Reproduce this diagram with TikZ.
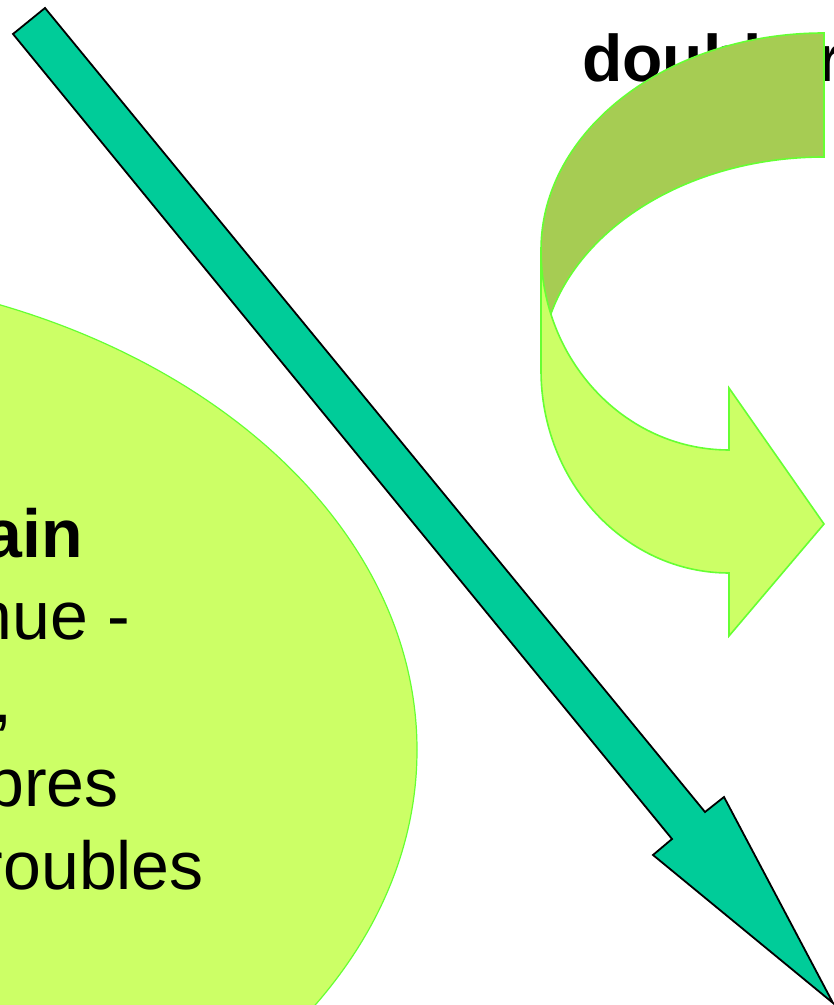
\documentclass[tikz,border=0pt]{standalone}
\usepackage{fontspec}
\setmainfont{Liberation Sans}
\usepackage{tikz}
\definecolor{limefill}{RGB}{204,255,102}
\definecolor{limeedge}{RGB}{102,255,51}
\definecolor{bandback}{RGB}{166,204,83}
\definecolor{arrowteal}{RGB}{0,204,153}

\begin{document}
\begin{tikzpicture}[x=1pt,y=1pt,
  blob/.style={fill=limefill,draw=limeedge,line width=1.6pt},
  bandback/.style={fill=bandback,draw=limeedge,line width=1.6pt},
  shaft/.style={fill=arrowteal,draw=black,line width=1.8pt},
  txt/.style={inner sep=0pt,anchor=base east,font=\fontsize{68}{80}\selectfont},
  txtb/.style={txt,font=\bfseries\fontsize{68}{80}\selectfont},
  titre/.style={inner sep=0pt,anchor=base west,font=\bfseries\fontsize{66}{78}\selectfont}
]
  \useasboundingbox (0,0) rectangle (834,1005);
  \clip (0,0) rectangle (834,1005);

% ---------------- Titre (sous la fleche courbe) ----------------
  \node[titre] (head) at (582,923) {double r};

% ---------------- Fleche courbe ----------------
  \draw[bandback] (541,755) arc[start angle=180,end angle=90,x radius=283pt,y radius=217pt]
    -- (824,848) arc[start angle=90,end angle=180,x radius=283pt,y radius=213pt] -- cycle;
  \draw[blob] (541,755) -- (541,635)
    arc[start angle=180,end angle=270,x radius=188pt,y radius=203pt]
    -- (729,369) -- (824,481) -- (729,617) -- (729,555)
    arc[start angle=270,end angle=180,x radius=188pt,y radius=200pt] -- cycle;

% ---------------- Ellipse et texte ----------------
  \draw[blob,line width=1.2pt] (-250,255) ellipse[x radius=667pt,y radius=480pt];

  \node[txtb] (l1) at (83,447)  {ain};
  \node[txt]  (l2) at (130,365) {nue -};
  \node[txt]  (l3) at (13,282)  {,};
  \node[txt]  (l4) at (119,198) {pres};
  \node[txt]  (l5) at (204,115) {roubles};

% ---------------- Fleche diagonale ----------------
  \draw[shaft] (13,971) -- (45,997) -- (705,193) -- (724,208)
    -- (833,2) -- (653,150) -- (672,166) -- cycle;
\end{tikzpicture}
\end{document}
